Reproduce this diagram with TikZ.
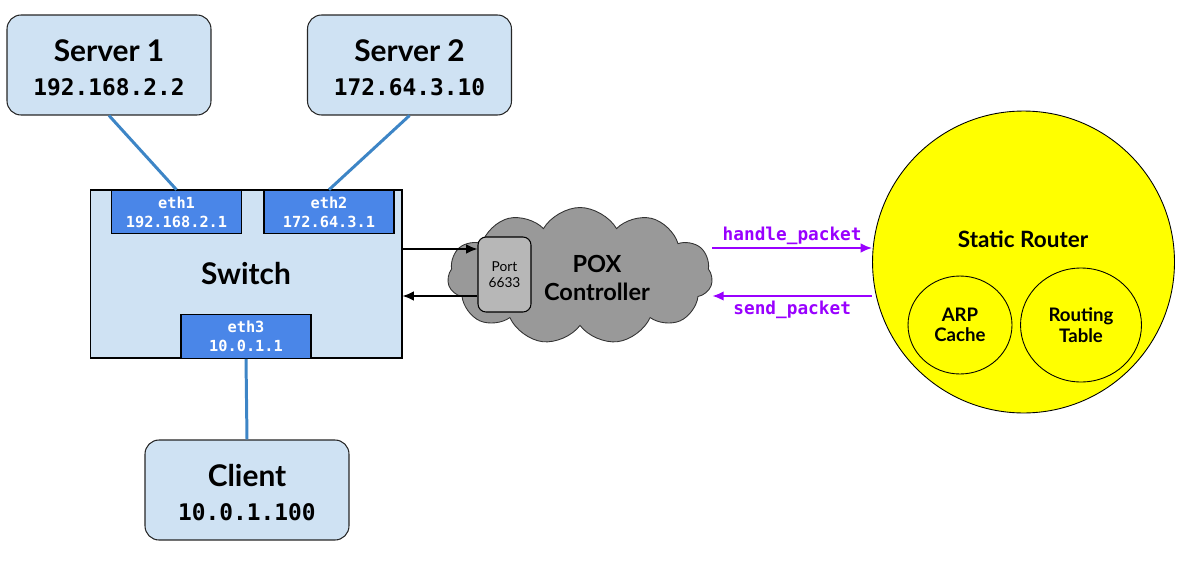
\documentclass[tikz,border=0pt]{standalone}
\usepackage{fontspec}
\setmainfont{Lato}
\setmonofont{DejaVu Sans Mono}
\usetikzlibrary{shapes.symbols,shapes.geometric,arrows.meta}
\definecolor{hostblue}{HTML}{CFE2F3}
\definecolor{ethblue}{HTML}{4A86E8}
\definecolor{linkblue}{HTML}{3D85C6}
\definecolor{cloudgray}{HTML}{999999}
\definecolor{portgray}{HTML}{B7B7B7}
\definecolor{callpurple}{HTML}{9900FF}
\definecolor{routeryellow}{HTML}{FFFF00}
\newcommand\ipfont{\ttfamily\bfseries\fontsize{13}{19}\selectfont}
\newcommand\hosttop{\rule{0pt}{15.5pt}}
\tikzset{
	host/.style={draw=black!85, fill=hostblue, rounded corners=0.28cm, line width=0.6pt, minimum width=4.08cm, minimum height=2cm, align=center, inner sep=0pt, font=\bfseries\fontsize{17}{19}\selectfont},
	eth/.style={draw=black, fill=ethblue, text=white, line width=0.6pt, minimum width=2.6cm, minimum height=0.87cm, align=center, inner sep=0pt, font=\ttfamily\bfseries\fontsize{8.7}{10.8}\selectfont},
	link/.style={draw=linkblue, line width=1.7pt},
	ctrl/.style={draw=black, line width=0.9pt, -{Latex[length=6.5pt, width=5.5pt]}},
	call/.style={draw=callpurple, line width=1.2pt, -{Latex[length=6.5pt, width=5.5pt]}},
	calllabel/.style={text=callpurple, font=\ttfamily\bfseries\fontsize{10.1}{12}\selectfont, inner sep=0pt},
	inner circle/.style={ellipse, draw=black, line width=0.5pt, align=center, inner sep=0pt, font=\bfseries\fontsize{10.6}{11.7}\selectfont}
}

\begin{document}
\begin{tikzpicture}[x=0.02cm, y=-0.02cm]
	%%%%% START %%%%%
	
	\useasboundingbox (0, 0) rectangle (1182, 561);
	
	\node[host] (server1) at (109, 65) {\hosttop Server 1\\{\ipfont 192.168.2.2}};
	\node[host] (server2) at (409.5, 65) {\hosttop Server 2\\{\ipfont 172.64.3.10}};
	\node[host] (client) at (247, 490) {\hosttop Client\\{\ipfont 10.0.1.100}};
	
	\node[draw=black, fill=hostblue, line width=0.6pt, minimum width=6.24cm, minimum height=3.36cm, inner sep=0pt, font=\bfseries\fontsize{17}{20}\selectfont] (switch) at (246, 274) {Switch};
	\node[eth] (eth1) at (176.5, 212) {eth1\\192.168.2.1};
	\node[eth] (eth2) at (329, 212) {eth2\\172.64.3.1};
	\node[eth] (eth3) at (246, 336.5) {eth3\\10.0.1.1};
	
	\draw[link] (server1.south) -- (eth1.north);
	\draw[link] (server2.south) -- (eth2.north);
	\draw[link] (eth3.south) -- (client.north);
	
	\node[cloud, cloud puffs=11, cloud puff arc=120, cloud ignores aspect, draw=black!80, fill=cloudgray, line width=0.5pt, minimum width=5.3cm, minimum height=2.74cm] (pox) at (580, 276) {};
	\node[draw=black, fill=portgray, rounded corners=0.16cm, line width=0.6pt, minimum width=1.06cm, minimum height=1.5cm, align=center, inner sep=0pt, font=\fontsize{7.8}{9}\selectfont] (port) at (504.5, 274.5) {Port\\6633};
	\node[align=center, font=\bfseries\fontsize{13.4}{16}\selectfont] (poxlabel) at (597, 278) {POX\\Controller};
	
	\draw[ctrl] (switch.east |- 0,249) -- (port.west |- 0,249);
	\draw[ctrl] (port.west |- 0,296) -- (switch.east |- 0,296);
	
	\node[circle, draw=black, fill=routeryellow, line width=0.5pt, minimum size=6.04cm, inner sep=0pt] (router) at (1023.5, 262) {};
	\node[font=\bfseries\fontsize{12.8}{15}\selectfont] (routerlabel) at (1023, 239) {Static Router};
	\node[inner circle, minimum width=2.08cm, minimum height=1.96cm] (arp) at (960, 325) {ARP\\Cache};
	\node[inner circle, minimum width=2.42cm, minimum height=2.28cm] (rtable) at (1081, 325) {Routing\\Table};
	
	\draw[call] (pox.east |- 0,248) -- (router.west |- 0,248) node[calllabel, midway, above=1.5pt] {handle\_packet};
	\draw[call] (router.west |- 0,296) -- (pox.east |- 0,296) node[calllabel, midway, below=2.5pt] {send\_packet};
	
	%%%%% END %%%%%
\end{tikzpicture}
\end{document}
